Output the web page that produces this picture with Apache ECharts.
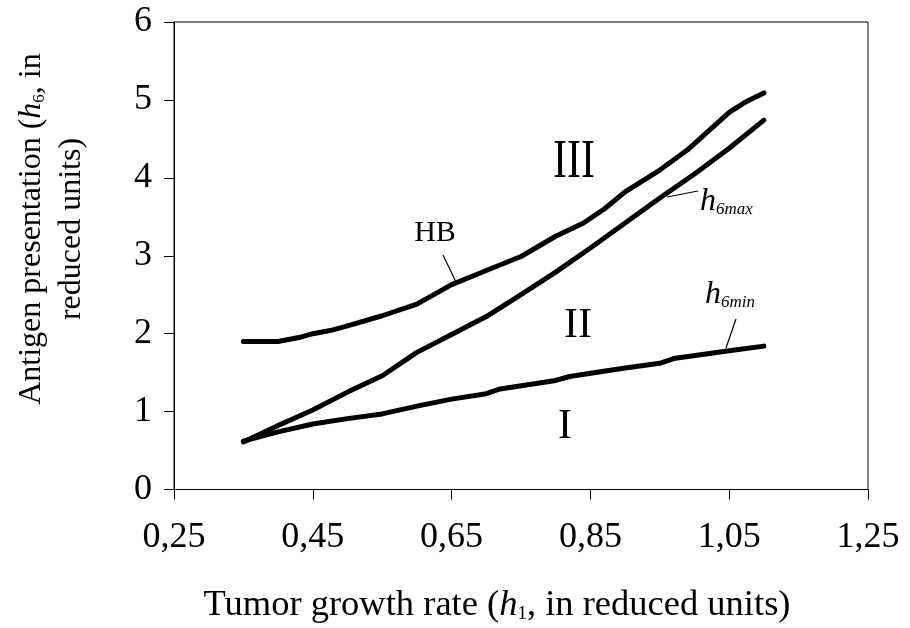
<!DOCTYPE html>
<html>
<head>
<meta charset="utf-8">
<script src="https://cdn.jsdelivr.net/npm/echarts@6/dist/echarts.min.js"></script>
<style>
  html, body { margin: 0; padding: 0; background: #fff; }
  #chart { width: 910px; height: 628px; }
</style>
</head>
<body>
<div id="chart"></div>
<script>
// Boundary curves in the (h1, h6) plane
const hbCurve = [
  [0.35, 1.90], [0.40, 1.90], [0.43, 1.95], [0.45, 2.00], [0.475, 2.04],
  [0.50, 2.10], [0.55, 2.23], [0.60, 2.38], [0.65, 2.63], [0.70, 2.81],
  [0.75, 2.99], [0.80, 3.25], [0.84, 3.42], [0.87, 3.60], [0.90, 3.82],
  [0.95, 4.10], [0.99, 4.36], [1.02, 4.60], [1.05, 4.84], [1.075, 4.98],
  [1.10, 5.09]
];
const h6maxCurve = [
  [0.35, 0.61], [0.40, 0.82], [0.45, 1.02], [0.50, 1.25], [0.55, 1.46],
  [0.60, 1.76], [0.65, 1.99], [0.70, 2.22], [0.75, 2.50], [0.80, 2.79],
  [0.85, 3.10], [0.90, 3.42], [0.95, 3.74], [1.00, 4.05], [1.05, 4.38],
  [1.10, 4.74]
];
const h6minCurve = [
  [0.35, 0.62], [0.40, 0.74], [0.45, 0.84], [0.50, 0.91], [0.55, 0.97],
  [0.60, 1.07], [0.65, 1.16], [0.70, 1.23], [0.72, 1.29], [0.80, 1.40],
  [0.82, 1.45], [0.90, 1.56], [0.95, 1.62], [0.97, 1.68], [1.05, 1.78],
  [1.10, 1.84]
];
const xRange = { min: 0.25, max: 1.25, step: 0.2 };
const yRange = { min: 0, max: 6, step: 1 };

const SERIF = '"Liberation Serif", "DejaVu Serif", serif';

const chart = echarts.init(document.getElementById('chart'), null, { renderer: 'canvas' });

function curve(name, data) {
  return {
    name: name,
    type: 'line',
    data: data,
    showSymbol: false,
    symbol: 'none',
    lineStyle: { color: '#000', width: 5, cap: 'round', join: 'round' },
    silent: true
  };
}

function leader(x1, y1, x2, y2) {
  return {
    type: 'line',
    shape: { x1: x1, y1: y1, x2: x2, y2: y2 },
    style: { stroke: '#000', lineWidth: 1.2 },
    silent: true
  };
}

function label(text, x, y, size, extra) {
  return Object.assign({
    type: 'text',
    x: x, y: y,
    style: {
      text: text,
      font: size + 'px ' + SERIF,
      fill: '#000',
      align: 'center',
      verticalAlign: 'middle'
    },
    silent: true
  }, extra || {});
}

const italicSub = {
  i: { fontFamily: SERIF, fontStyle: 'italic', fontSize: 32, lineHeight: 36, verticalAlign: 'bottom', color: '#000' },
  s: { fontFamily: SERIF, fontStyle: 'italic', fontSize: 17, lineHeight: 17, verticalAlign: 'bottom', color: '#000' }
};

const option = {
  animation: false,
  backgroundColor: '#fff',
  grid: {
    left: 174, right: 42, top: 22, bottom: 138.5,
    containLabel: false,
    outerBoundsMode: 'none',
    show: true, borderColor: '#000', borderWidth: 1
  },
  xAxis: {
    type: 'value',
    min: xRange.min, max: xRange.max, interval: xRange.step,
    axisLine: { show: true, onZero: false, lineStyle: { color: '#000', width: 1 } },
    axisTick: { show: true, inside: false, length: 10, lineStyle: { color: '#000', width: 1 } },
    splitLine: { show: false },
    axisLabel: {
      margin: 30,
      color: '#000',
      fontFamily: SERIF,
      fontSize: 36,
      formatter: v => v.toFixed(2).replace('.', ',')
    },
    name: '{n|Tumor growth rate (}{i|h}{s|1}{n|, in reduced units)}',
    nameLocation: 'middle',
    nameGap: 94,
    nameTextStyle: {
      padding: [0, 48, 0, 0],
      rich: {
        n: { fontFamily: SERIF, fontSize: 36.5, lineHeight: 40, verticalAlign: 'bottom', color: '#000' },
        i: { fontFamily: SERIF, fontStyle: 'italic', fontSize: 36.5, lineHeight: 40, verticalAlign: 'bottom', color: '#000' },
        s: { fontFamily: SERIF, fontSize: 19, lineHeight: 19, verticalAlign: 'bottom', color: '#000' }
      }
    }
  },
  yAxis: {
    type: 'value',
    min: yRange.min, max: yRange.max, interval: yRange.step,
    axisLine: { show: true, onZero: false, lineStyle: { color: '#000', width: 1 } },
    axisTick: { show: true, inside: false, length: 10, lineStyle: { color: '#000', width: 1 } },
    splitLine: { show: false },
    axisLabel: {
      margin: 22,
      color: '#000',
      fontFamily: SERIF,
      fontSize: 36
    }
  },
  series: [
    curve('HB', hbCurve),
    curve('h6max', h6maxCurve),
    curve('h6min', h6minCurve)
  ],
  graphic: [
    // vertical axis title, two lines
    {
      type: 'text',
      x: 48, y: 229,
      rotation: Math.PI / 2,
      style: {
        text: '{n|Antigen presentation (}{i|h}{s|6}{n|, in}\n{n|reduced units)}',
        align: 'center',
        verticalAlign: 'middle',
        rich: {
          n: { fontFamily: SERIF, fontSize: 32, lineHeight: 40, verticalAlign: 'bottom', color: '#000' },
          i: { fontFamily: SERIF, fontStyle: 'italic', fontSize: 32, lineHeight: 40, verticalAlign: 'bottom', color: '#000' },
          s: { fontFamily: SERIF, fontSize: 17, lineHeight: 17, verticalAlign: 'bottom', color: '#000' }
        }
      },
      silent: true
    },
    // region labels
    label('III', 574, 163, 42, { scaleY: 1.3, originX: 0, originY: 0 }),
    label('II', 578, 326, 42),
    label('I', 565, 427, 42),
    label('HB', 435, 233, 30),
    // curve labels
    {
      type: 'text', x: 700, y: 182,
      style: { text: '{i|h}{s|6max}', rich: italicSub },
      silent: true
    },
    {
      type: 'text', x: 705, y: 275,
      style: { text: '{i|h}{s|6min}', rich: italicSub },
      silent: true
    },
    leader(443, 255, 456, 282),
    leader(698, 191, 667, 197),
    leader(736, 319, 726, 348)
  ]
};

chart.setOption(option);
</script>
</body>
</html>
